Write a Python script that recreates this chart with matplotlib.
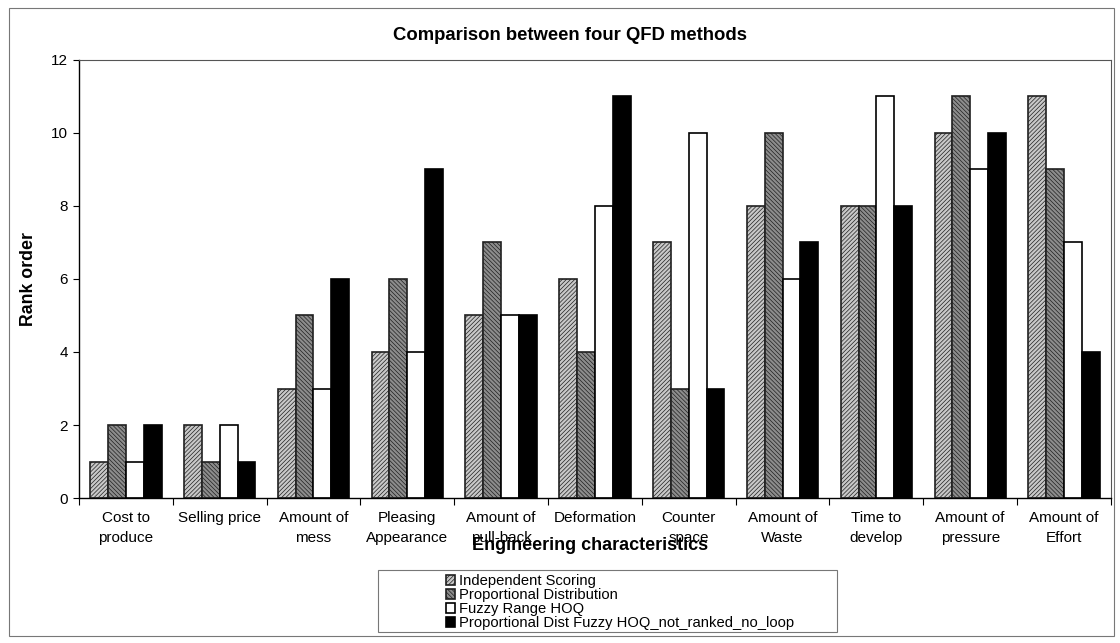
import matplotlib
matplotlib.use("Agg")
import matplotlib.pyplot as plt
import numpy as np
from matplotlib.patches import Rectangle

plt.rcParams['font.family'] = ['Liberation Sans', 'DejaVu Sans']
plt.rcParams['hatch.linewidth'] = 0.5

categories = ["Cost to\nproduce", "Selling price", "Amount of\nmess", "Pleasing\nAppearance",
              "Amount of\npull-back", "Deformation", "Counter\nspace", "Amount of\nWaste",
              "Time to\ndevelop", "Amount of\npressure", "Amount of\nEffort"]
independent_scoring = [1, 2, 3, 4, 5, 6, 7, 8, 8, 10, 11]
proportional_distribution = [2, 1, 5, 6, 7, 4, 3, 10, 8, 11, 9]
fuzzy_range_hoq = [1, 2, 3, 4, 5, 8, 10, 6, 11, 9, 7]
prop_dist_fuzzy_hoq = [2, 1, 6, 9, 5, 11, 3, 7, 8, 10, 4]
series_names = ["Independent Scoring", "Proportional Distribution", "Fuzzy Range HOQ",
                "Proportional Dist Fuzzy HOQ_not_ranked_no_loop"]

fig = plt.figure(figsize=(11.2, 6.43), dpi=100)
ax = fig.add_axes([0.0705, 0.2255, 0.9214, 0.6812])

x = np.arange(len(categories))
w = 0.19
styles = [
    dict(facecolor="#c8c8c8", hatch="////////", edgecolor="#202020"),
    dict(facecolor="#8c8c8c", hatch="\\\\\\\\\\\\\\\\", edgecolor="#202020"),
    dict(facecolor="white", hatch=None, edgecolor="black"),
    dict(facecolor="black", hatch=None, edgecolor="black"),
]
data = [independent_scoring, proportional_distribution, fuzzy_range_hoq, prop_dist_fuzzy_hoq]
handles = []
for i, (vals, st) in enumerate(zip(data, styles)):
    b = ax.bar(x + (i - 1.5) * w, vals, width=w, linewidth=1.2, label=series_names[i], **st)
    handles.append(b)

ax.set_xlim(-0.5, len(categories) - 0.5)
ax.set_ylim(0, 12)
ax.set_yticks(range(0, 13, 2))
ax.tick_params(axis="y", labelsize=11, length=4, width=0.8, pad=4)

ax.set_xticks(x)
ax.set_xticklabels(categories, fontsize=11, linespacing=1.55)
ax.tick_params(axis="x", which="major", length=0, pad=9)
ax.set_xticks(np.arange(-0.5, len(categories) + 0.5, 1), minor=True)
ax.tick_params(axis="x", which="minor", length=5, width=0.8)

for s in ["top", "right"]:
    ax.spines[s].set_linestyle((0, (1, 1)))
    ax.spines[s].set_linewidth(0.8)
    ax.spines[s].set_color("#555555")
ax.spines["left"].set_linewidth(1.0)
ax.spines["bottom"].set_linewidth(1.0)

ax.set_ylabel("Rank order", fontsize=12.8, fontweight="bold", labelpad=10)
fig.text(590 / 1120, 1 - 545 / 643, "Engineering characteristics", fontsize=13,
         fontweight="bold", ha="center", va="center")
fig.text(570 / 1120, 1 - 36 / 643, "Comparison between four QFD methods", fontsize=13.3,
         fontweight="bold", ha="center", va="center")

# outer chart frame
fig.patches.append(Rectangle((9 / 1120, 1 - 636 / 643), 1105 / 1120, 628 / 643,
                             transform=fig.transFigure, fill=False, edgecolor="#777777",
                             linewidth=0.8))
# legend box
fig.patches.append(Rectangle((378 / 1120, 1 - 632 / 643), 459 / 1120, 62 / 643,
                             transform=fig.transFigure, fill=False, edgecolor="#777777",
                             linewidth=0.8))
fig.legend(handles=handles, loc="upper left", bbox_to_anchor=(436 / 1120, 1 - 564 / 643),
           frameon=False, fontsize=10.6, handlelength=0.6, handleheight=0.6,
           handletextpad=0.25, labelspacing=0.0, borderpad=0.2)

fig.savefig("out.png", dpi=100, facecolor="white")
